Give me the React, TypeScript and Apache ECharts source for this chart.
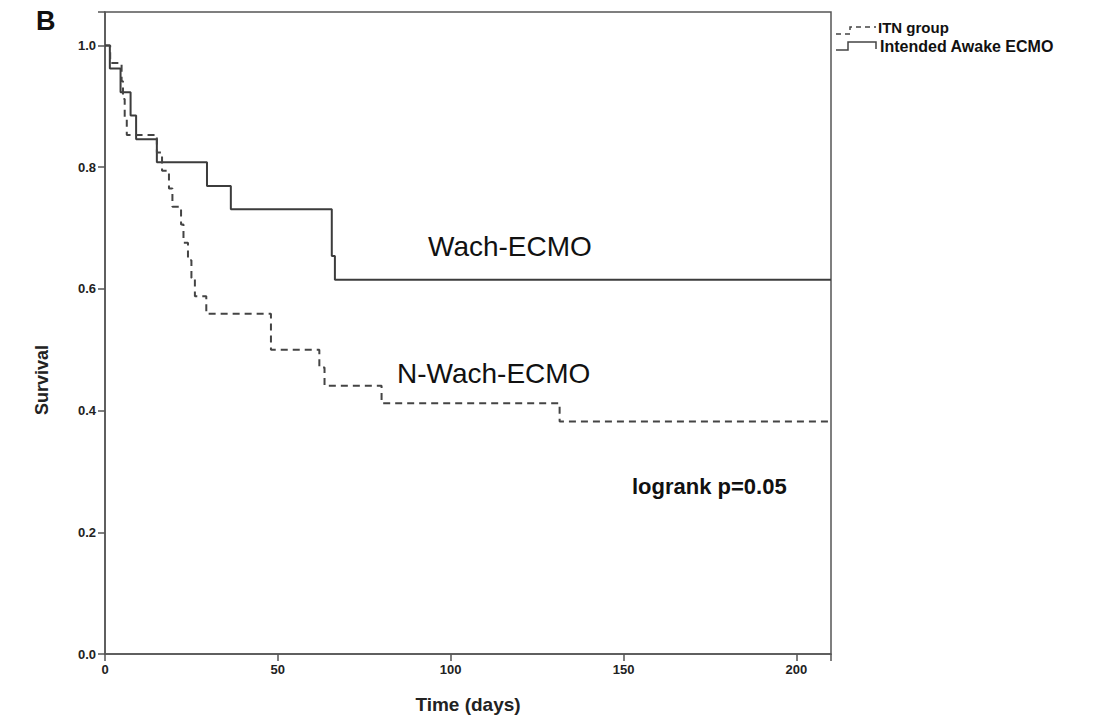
import React, { useEffect, useRef } from "react";
import * as echarts from "echarts";

const awakeTimes = [0, 1.4, 4.5, 7.4, 9, 15, 29.5, 36.4, 65.6, 66.5, 210];
const awakeSurv = [1, 0.962, 0.923, 0.885, 0.846, 0.808, 0.769, 0.731, 0.654, 0.615, 0.615];

const itnTimes = [0, 1.5, 4.8, 5.2, 5.7, 6.3, 15, 16.5, 18.5, 19.5, 22, 22.7, 24, 25, 26, 29.3, 48, 62, 63.5, 80, 131.5, 210];
const itnSurv = [1, 0.971, 0.941, 0.912, 0.882, 0.853, 0.824, 0.794, 0.765, 0.735, 0.706, 0.676, 0.647, 0.618, 0.588, 0.559, 0.5, 0.471, 0.441, 0.412, 0.382, 0.382];

const xTicks = [0, 50, 100, 150, 200];
const yTicks = [0, 0.2, 0.4, 0.6, 0.8, 1.0];

const legendNames = ["ITN group", "Intended Awake ECMO"];

export default function App() {
  const ref = useRef<HTMLDivElement>(null);
  useEffect(() => {
    if (!ref.current) return;
    const chart = echarts.init(ref.current, undefined, { renderer: "svg" });
    const tickFont = {
      fontFamily: "Liberation Sans",
      fontWeight: "bold" as const,
      fontSize: 13,
      color: "#222",
    };
    const isTick = (v: number, list: number[]) => list.some((t) => Math.abs(t - v) < 1e-6);
    chart.setOption({
      animation: false,
      backgroundColor: "#fff",
      grid: {
        left: 105,
        right: 286,
        top: 12,
        bottom: 67,
        show: true,
        borderColor: "#555",
        borderWidth: 1.5,
      },
      xAxis: {
        type: "value",
        min: 0,
        max: 210,
        interval: 50,
        name: "Time (days)",
        nameLocation: "middle",
        nameGap: 41,
        nameTextStyle: { fontFamily: "Liberation Sans", fontWeight: "bold", fontSize: 19, color: "#222" },
        axisLine: { show: true, onZero: false, lineStyle: { color: "#555", width: 1.5 } },
        axisTick: { show: true, length: 7, lineStyle: { color: "#555", width: 1.5 } },
        axisLabel: {
          ...tickFont,
          margin: 9,
          formatter: (v: number) => (isTick(v, xTicks) ? String(v) : ""),
        },
        splitLine: { show: false },
      },
      yAxis: {
        type: "value",
        min: 0,
        max: 1.055,
        interval: 0.2,
        axisLine: { show: true, lineStyle: { color: "#555", width: 1.5 } },
        axisTick: { show: true, length: 7, lineStyle: { color: "#555", width: 1.5 } },
        axisLabel: {
          ...tickFont,
          margin: 9,
          formatter: (v: number) => (isTick(v, yTicks) ? v.toFixed(1) : ""),
        },
        splitLine: { show: false },
      },
      series: [
        {
          name: legendNames[1],
          type: "line",
          step: "end",
          symbol: "none",
          data: awakeTimes.map((t, i) => [t, awakeSurv[i]]),
          lineStyle: { color: "#3c3c3c", width: 2, type: "solid" },
        },
        {
          name: legendNames[0],
          type: "line",
          step: "end",
          symbol: "none",
          data: itnTimes.map((t, i) => [t, itnSurv[i]]),
          lineStyle: { color: "#444", width: 2, type: [7, 5] },
        },
      ],
      graphic: [
        {
          type: "text",
          left: 36,
          top: 7,
          style: { text: "B", fontFamily: "Liberation Sans", fontWeight: "bold", fontSize: 27, fill: "#111" },
        },
        {
          type: "text",
          x: 42,
          y: 380,
          rotation: Math.PI / 2,
          style: {
            text: "Survival",
            fontFamily: "Liberation Sans",
            fontWeight: "bold",
            fontSize: 18,
            fill: "#222",
            align: "center",
            verticalAlign: "middle",
          },
        },
        {
          type: "text",
          left: 428,
          top: 232,
          style: { text: "Wach-ECMO", fontFamily: "Liberation Sans", fontSize: 28, fill: "#111" },
        },
        {
          type: "text",
          left: 397,
          top: 359,
          style: { text: "N-Wach-ECMO", fontFamily: "Liberation Sans", fontSize: 28, fill: "#111" },
        },
        {
          type: "text",
          left: 632,
          top: 475,
          style: { text: "logrank p=0.05", fontFamily: "Liberation Sans", fontWeight: "bold", fontSize: 22, fill: "#111" },
        },
        {
          type: "polyline",
          shape: { points: [[836, 34], [850, 34], [850, 27], [876, 27]] },
          style: { stroke: "#444", lineWidth: 1.5, lineDash: [5, 4], fill: "none" },
        },
        {
          type: "text",
          left: 878,
          top: 20,
          style: { text: legendNames[0], fontFamily: "Liberation Sans", fontWeight: "bold", fontSize: 15, fill: "#111" },
        },
        {
          type: "polyline",
          shape: { points: [[836, 50], [848, 50], [848, 42], [876, 42], [876, 49]] },
          style: { stroke: "#444", lineWidth: 1.5, fill: "none" },
        },
        {
          type: "text",
          left: 880,
          top: 38,
          style: { text: legendNames[1], fontFamily: "Liberation Sans", fontWeight: "bold", fontSize: 16, fill: "#111" },
        },
      ],
    });
    return () => chart.dispose();
  }, []);
  return (
    <div
      ref={ref}
      style={{ position: "fixed", left: 0, top: 0, width: 1117, height: 721, background: "#fff" }}
    />
  );
}
